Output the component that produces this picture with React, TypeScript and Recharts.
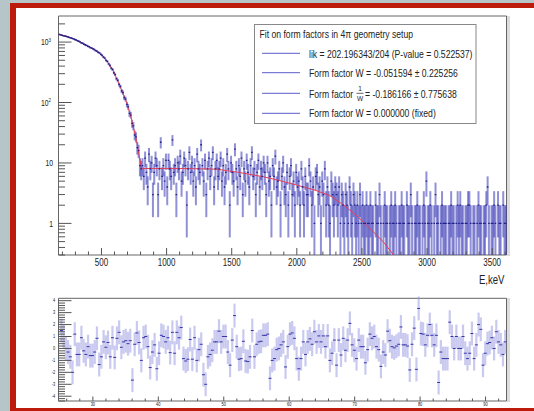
import React from "react"
import {
  ComposedChart,
  Scatter,
  Line,
  XAxis,
  YAxis,
  ErrorBar,
  ReferenceArea,
  Legend,
} from "recharts"

const FONT = "'Liberation Sans', Arial, Helvetica, sans-serif"
const SQUEEZE = 0.8

const E_MIN = 170
const E_MAX = 3610
const BIN = 10
const Y_MIN = 0.3
const Y_MAX = 2700

// counts per 10 keV bin, centres 175 ... 805 keV
const countsSteep = [
  1345, 1318, 1296, 1279, 1262, 1248, 1231, 1214, 1189, 1176,
  1149, 1133, 1104, 1087, 1058, 1031, 1008, 972, 957, 921,
  903, 879, 852, 838, 809, 797, 771, 753, 722, 706,
  676, 663, 627, 604, 566, 541, 499, 478, 436, 410,
  371, 352, 311, 290, 248, 232, 199, 184, 155, 146,
  121, 114, 93, 85, 66, 62, 45, 41, 29, 27,
  18, 16, 9, 8,
]
// centres 815 ... 2295 keV
const countsFlat = [
  9, 6, 12, 7, 4, 14, 8, 10, 3, 7, 12, 9, 3, 8, 22, 6, 9, 5, 11, 4,
  11, 8, 6, 24, 7, 9, 3, 10, 8, 13, 5, 7, 12, 9, 2, 8, 15, 7, 10, 5,
  9, 4, 14, 8, 7, 20, 9, 5, 11, 3, 8, 12, 6, 9, 15, 4, 8, 11, 6,
  8, 12, 5, 9, 4, 7, 14, 8, 2, 10, 7, 5, 17, 8, 4, 9, 6, 12, 3, 8,
  5, 11, 7, 4, 9, 15, 6, 8, 3, 7, 11, 4, 8, 6, 10,
  7, 3, 10, 5, 6, 2, 9, 6, 13, 4, 5, 8, 2, 6, 10, 4, 3, 7, 2, 6,
  9, 3, 5, 2, 7, 4,
  5, 2, 8, 4, 2, 6, 3, 3, 9, 5, 2, 4, 1, 6, 7, 3, 4, 1, 5, 3,
  8, 2, 4, 2, 1, 5, 3, 2, 4,
]
// centres 2305 ... 3605 keV
const countsTail = [
  3, 2, 4, 1, 3, 2, 1, 3, 2, 1, 4, 2, 1, 3, 2, 1, 2, 1, 3, 1, 2, 1, 1, 2, 1,
  1, 2, 1, 1, 0, 2, 1, 1, 3, 1, 0, 1, 2, 1, 1, 0, 1, 2, 1, 1,
  2, 1, 0, 1, 1, 2, 1, 1, 0, 2, 1, 1, 3, 1, 0, 1, 1, 2, 1, 1,
  0, 1, 2, 1, 5, 1, 1, 2, 1, 0, 1, 3, 1, 1, 0, 1, 2, 1, 1, 1,
  0, 1, 1, 2, 1, 1, 0, 1, 2, 1, 2, 1, 1, 0, 1, 1, 2, 2, 1, 0,
  1, 1, 0, 1, 2, 1, 1, 0, 1, 1, 2, 4, 1, 0, 1, 1, 2, 1, 0, 2,
  1, 1, 0, 2, 1, 1,
]

// red fit curve
const fitEnergy = [
  170, 231, 282, 333, 385, 436, 487, 538, 589, 640, 692, 730, 769, 807,
  900, 1000, 1200, 1383, 1550, 1745, 1870, 1998, 2130, 2253, 2360, 2450,
  2537, 2610, 2666, 2743,
]
const fitValue = [
  1340, 1243, 1138, 1000, 882, 777, 657, 500, 341, 192, 102, 54, 23.7, 8.1,
  8.1, 8.1, 8.05, 7.9, 7.0, 5.9, 5.1, 4.3, 3.6, 2.9, 2.0, 1.4,
  0.93, 0.65, 0.49, 0.3,
]

// pulls shown in the lower pad
const pulls = [
  1.5, 1.0, 0, -0.3, -0.7, -2.0, 1.2, -0.5, -0.5, 0.9,
  -0.2, -0.5, 0.15, -0.6, -0.6, -0.3, 0.85, -1.35, -0.7, 0.55,
  0.1, 0.5, -0.7, 0.9, -0.75, 0.85, 1.35, 0.1, 0.55, 0.65,
  0.4, 0.65, -2.65, 0.35, 1.3, 0.5, -1.0, 0.9, 1.0, 0.15,
  -1.6, -0.3, 0.3, -1.7, -0.4, 1.1, 1.0, 0.55, 0.9, -0.35,
  1.35, -0.4, 1.35, 0.9, 1.75, -0.85, -1.05, -0.9, 0.75, -0.9,
  0.9, -1.0, -0.1, 0.35, -2.2, -3.0, -0.7, -0.5, -0.15, 0.55,
  0.55, 1.45, 0.55, 1.0, 1.0, -0.3, -1.4, 0.7, 2.75, 0.15,
  -0.9, -0.85, 0.6, -1.05, -1.1, -0.7, 1.5, -0.7, 0.35, 0.55,
  0.6, 1.1, 1.1, 1.2, -2.5,
  -1.0, -0.85, -0.1, 0, 0.3, 0.55, -1.55, 0.15, 1.2, 1.3,
  0.85, -0.85, -1.7, -0.85, 0.55, -0.5, 0.55, 0.8, 0.35, 1.4,
  0.55, 1.05, 0.55, 1.05, 0.15, 1.05, -1.0, -0.4, 0.7, -1.4,
  0.7, -0.55, 0.85, -0.15, 0.7, 2.1, 0.3, -0.15, -0.85, 0.7,
  0.15, 0.15, -1.2, -0.1, 1.2, 0.85, 1.0, 0.15, -0.1, -1.5,
  -0.3, -0.55, 1.45, 0.65, 0.15, 0.05, 0.2, 0.35, 1.8, 0.3,
  0.3, 0.2, -1.8, 0.35, 1.7, -1.75, 3.35, 1.25, 1.2, 0.3,
  1.1, 2.0, 1.1, 0.3, 1.1, -2.85, -0.3, -0.85, -0.85, -0.85,
  2.2, 1.0, 0, 1.0, 0, 0, 1.0, -0.4, -0.85, -0.4,
  1.25, -0.85, 0.3, 2.0, 1.6, -1.4, -0.4, 0.4, 0.5, 0.9,
  0, 1.4, 0.55, 0.3, -0.5, 0.55,
]
const PULL_X0 = 25.2
const PULL_STEP = 0.339

const energyLabels = [500, 1000, 1500, 2000, 2500, 3000, 3500]
const pullXLabels = [30, 40, 50, 60, 70, 80, 90]

const counts = [...countsSteep, ...countsFlat, ...countsTail]
const histData = counts
  .map((c, i) => {
    const e = Math.sqrt(c)
    return { x: E_MIN + (i + 0.5) * BIN, y: c, err: [c - Math.max(c - e, Y_MIN), e] }
  })
  .filter((d) => d.y > 0)

const fitData = fitEnergy.map((x, i) => ({ x, y: fitValue[i] }))
const pullData = pulls.map((p, i) => ({ x: PULL_X0 + i * PULL_STEP, y: p, err: 1 }))

const energyTicks: number[] = []
for (let v = 200; v <= 3600; v += 100) energyTicks.push(v)
const countTicks: number[] = []
for (const d of [0.1, 1, 10, 100, 1000])
  for (let m = 1; m <= 9; m++) {
    const v = Number((m * d).toPrecision(3))
    if (v >= Y_MIN && v <= Y_MAX) countTicks.push(v)
  }
const pullXTicks: number[] = []
for (let v = 26; v <= 92; v += 2) pullXTicks.push(v)
const pullYTicks: number[] = []
for (let k = -22; k <= 20; k++) pullYTicks.push(k / 5)

function Narrow({ x, y, size, anchor = "start", squeeze = SQUEEZE, children }: any) {
  return (
    <text
      transform={`translate(${x},${y}) scale(${squeeze},1)`}
      textAnchor={anchor}
      fontSize={size}
      fontFamily={FONT}
      fill="#222"
    >
      {children}
    </text>
  )
}

function EnergyTick({ x, y, payload }: any) {
  const major = energyLabels.includes(payload.value)
  return (
    <g>
      <line x1={x} x2={x} y1={y} y2={y - (major ? 7 : 3.5)} stroke="#555" />
      {major && (
        <Narrow x={x} y={y + 10.7} size={10} anchor="middle">
          {payload.value}
        </Narrow>
      )}
    </g>
  )
}

function CountTick({ x, y, payload }: any) {
  const v = payload.value
  const p = Math.log10(v)
  const major = Math.abs(p - Math.round(p)) < 1e-6
  return (
    <g>
      <line x1={x} x2={x + (major ? 13 : 6.5)} y1={y} y2={y} stroke="#555" />
      {major && p >= 2 && (
        <text
          transform={`translate(${x - 7.5},${y + 3.3}) scale(${SQUEEZE},1)`}
          textAnchor="end"
          fontSize={8.5}
          fontFamily={FONT}
          fill="#222"
        >
          10
          <tspan dy={-3.6} fontSize={5.5}>
            {Math.round(p)}
          </tspan>
        </text>
      )}
      {major && p < 2 && (
        <Narrow x={x - 5.5} y={y + 3.3} size={8.5} anchor="end">
          {v}
        </Narrow>
      )}
    </g>
  )
}

function PullXTick({ x, y, payload }: any) {
  const major = pullXLabels.includes(payload.value)
  return (
    <g>
      <line x1={x} x2={x} y1={y} y2={y - (major ? 4.5 : 2.5)} stroke="#555" />
      {major && (
        <Narrow x={x} y={y + 4.8} size={5} anchor="middle">
          {payload.value}
        </Narrow>
      )}
    </g>
  )
}

function PullYTick({ x, y, payload }: any) {
  const v = payload.value
  const major = Math.abs(v - Math.round(v)) < 1e-6
  return (
    <g>
      <line x1={x} x2={x + (major ? 13 : 6.5)} y1={y} y2={y} stroke="#555" />
      {major && (
        <Narrow x={x - 3.2} y={y + 1.8} size={5} anchor="end">
          {Math.round(v)}
        </Narrow>
      )}
    </g>
  )
}

function BinMarker({ cx, cy }: any) {
  return <line x1={cx - 0.8} x2={cx + 0.8} y1={cy} y2={cy} stroke="#20208a" strokeWidth={1.3} />
}

function PullMarker({ cx, cy }: any) {
  return <line x1={cx - 1.5} x2={cx + 1.5} y1={cy} y2={cy} stroke="#3535a8" strokeWidth={1} />
}

function EnergyTitle({ viewBox }: any) {
  const { x, y, width } = viewBox
  return (
    <Narrow x={x + width - 2} y={y + 29} size={12} anchor="end">
      E,keV
    </Narrow>
  )
}

const LEGEND_LINE = "#5d5dcc"
const LEGEND_SQUEEZE = 0.785

function FitLegend() {
  const lineYs = [29.3, 48.7, 69.3, 89.3]
  return (
    <svg width={223} height={100} style={{ display: "block" }}>
      <rect x={0.5} y={0.5} width={221.5} height={99} fill="#fff" stroke="#888" />
      <Narrow x={5.5} y={14.3} size={11} squeeze={LEGEND_SQUEEZE}>
        Fit on form factors in 4π geometry setup
      </Narrow>
      {lineYs.map((ly) => (
        <line key={ly} x1={8} x2={46} y1={ly} y2={ly} stroke={LEGEND_LINE} />
      ))}
      <Narrow x={55} y={34.3} size={11} squeeze={LEGEND_SQUEEZE}>
        lik = 202.196343/204 (P-value = 0.522537)
      </Narrow>
      <Narrow x={55} y={53.3} size={11} squeeze={LEGEND_SQUEEZE}>
        Form factor W = -0.051594 ± 0.225256
      </Narrow>
      <Narrow x={55} y={73.7} size={11} squeeze={LEGEND_SQUEEZE}>
        Form factor
      </Narrow>
      <text x={106} y={67.3} fontSize={6.5} fontFamily={FONT} fill="#222" textAnchor="middle">
        1
      </text>
      <line x1={102.5} x2={109.5} y1={69.3} y2={69.3} stroke="#222" strokeWidth={0.7} />
      <text x={106} y={77} fontSize={6.5} fontFamily={FONT} fill="#222" textAnchor="middle">
        W
      </text>
      <Narrow x={111} y={73.7} size={11} squeeze={LEGEND_SQUEEZE}>
        = -0.186166 ± 0.775638
      </Narrow>
      <Narrow x={55} y={93.3} size={11} squeeze={LEGEND_SQUEEZE}>
        Form factor W = 0.000000 (fixed)
      </Narrow>
    </svg>
  )
}

export default function App() {
  return (
    <div
      style={{
        position: "absolute",
        left: 0,
        top: 0,
        width: 534,
        height: 411,
        background: "#b6c6c8",
        overflow: "hidden",
      }}
    >
      <div style={{ position: "absolute", left: 10, top: 3, width: 530, height: 412, background: "#bd1c0c" }} />
      <div style={{ position: "absolute", left: 16, top: 8, width: 520, height: 400, background: "#fff" }} />
      <div style={{ position: "absolute", left: 507, top: 16, width: 3, height: 240, background: "#dcdcdc" }} />
      <div style={{ position: "absolute", left: 507, top: 298, width: 3, height: 104, background: "#dcdcdc" }} />

      <div style={{ position: "absolute", left: 0, top: 0 }}>
        <ComposedChart width={534} height={290} margin={{ top: 16, right: 27.5, bottom: 0, left: 0 }}>
          <XAxis
            dataKey="x"
            type="number"
            domain={[E_MIN, E_MAX]}
            allowDataOverflow
            ticks={energyTicks}
            interval={0}
            tick={<EnergyTick />}
            tickLine={false}
            axisLine={false}
            tickSize={0}
            tickMargin={0}
            height={35}
            label={<EnergyTitle />}
          />
          <YAxis
            dataKey="y"
            type="number"
            scale="log"
            domain={[Y_MIN, Y_MAX]}
            allowDataOverflow
            ticks={countTicks}
            interval={0}
            tick={<CountTick />}
            tickLine={false}
            axisLine={false}
            tickSize={0}
            tickMargin={0}
            width={58.5}
          />
          <Scatter data={histData} dataKey="y" shape={BinMarker} isAnimationActive={false}>
            <ErrorBar
              dataKey="err"
              direction="y"
              width={0}
              stroke="rgba(52,52,180,0.55)"
              strokeWidth={2}
              isAnimationActive={false}
            />
          </Scatter>
          <Line
            data={fitData}
            dataKey="y"
            type="linear"
            stroke="#e63d57"
            strokeWidth={1}
            dot={false}
            isAnimationActive={false}
          />
          <ReferenceArea x1={E_MIN} x2={E_MAX} y1={Y_MIN} y2={Y_MAX} fill="none" stroke="#666" strokeWidth={1} />
          <Legend
            layout="horizontal"
            verticalAlign="middle"
            align="center"
            content={<FitLegend />}
            wrapperStyle={{ left: 254, top: 24, width: 223, height: 100 }}
          />
        </ComposedChart>
      </div>

      <div style={{ position: "absolute", left: 0, top: 290 }}>
        <ComposedChart width={534} height={121} margin={{ top: 8.3, right: 27.5, bottom: 0, left: 0 }}>
          <XAxis
            dataKey="x"
            type="number"
            domain={[24.75, 93.2]}
            allowDataOverflow
            ticks={pullXTicks}
            interval={0}
            tick={<PullXTick />}
            tickLine={false}
            axisLine={false}
            tickSize={0}
            tickMargin={0}
            height={10}
          />
          <YAxis
            dataKey="y"
            type="number"
            domain={[-4.4, 4.2]}
            allowDataOverflow
            ticks={pullYTicks}
            interval={0}
            tick={<PullYTick />}
            tickLine={false}
            axisLine={false}
            tickSize={0}
            tickMargin={0}
            width={58.5}
          />
          <Scatter data={pullData} dataKey="y" shape={PullMarker} isAnimationActive={false}>
            <ErrorBar
              dataKey="err"
              direction="y"
              width={0}
              stroke="rgba(150,150,225,0.5)"
              strokeWidth={2.2}
              isAnimationActive={false}
            />
          </Scatter>
          <ReferenceArea x1={24.75} x2={93.2} y1={-4.4} y2={4.2} fill="none" stroke="#666" strokeWidth={1} />
        </ComposedChart>
      </div>
    </div>
  )
}
